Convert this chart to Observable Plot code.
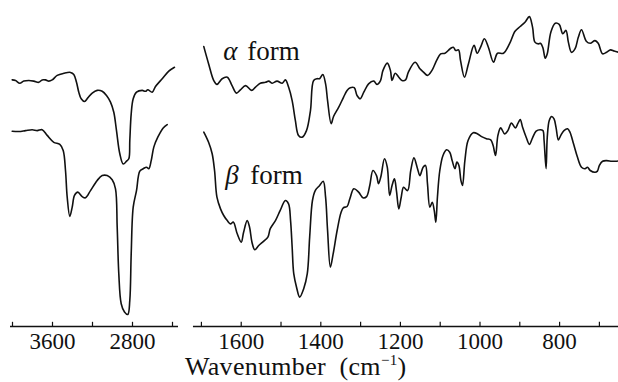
<!DOCTYPE html>
<html>
<head>
<meta charset="utf-8">
<script src="https://cdn.jsdelivr.net/npm/d3@7"></script>
<script src="https://cdn.jsdelivr.net/npm/@observablehq/plot@0.6"></script>
<style>
  html, body { margin: 0; padding: 0; background: #fff; }
  #chart { position: relative; width: 618px; height: 382px; overflow: hidden;
    font-family: "Liberation Serif", "Tinos", "Times New Roman", "Nimbus Roman", "DejaVu Serif", "Noto Serif", "FreeSerif", serif; }
  #left { position: absolute; left: 0; top: 0; }
  #right { position: absolute; left: 185px; top: 0; }
  #xlabel { position: absolute; left: 185px; top: 355px; font-size: 26px; line-height: 24px; color: #111; white-space: nowrap; letter-spacing: 0.3px; }
  #xlabel sup { font-size: 15px; vertical-align: 0; position: relative; top: -10px; }
</style>
</head>
<body>
<div id="chart">
  <div id="left"></div>
  <div id="right"></div>
  <div id="xlabel">Wavenumber&nbsp; (cm<sup>−1</sup>)</div>
</div>
<script>
// Wavenumber (cm^-1), relative transmittance (arbitrary offset units)
const alphaLeft = [
  [4003,82.2],[3970,82.0],[3927,81.1],[3887,81.8],[3837,82.0],[3787,81.8],[3737,81.4],[3703,82.2],
  [3670,82.2],[3637,81.8],[3603,82.2],[3553,83.7],[3487,84.4],[3420,84.7],[3387,84.0],[3360,81.4],
  [3337,78.1],[3313,75.9],[3280,75.0],[3247,76.2],[3203,77.8],[3153,78.7],[3103,78.4],[3060,77.0],
  [3020,74.8],[2987,71.4],[2960,65.3],[2927,57.6],[2893,54.2],[2860,55.1],[2837,55.9],[2827,62.0],
  [2813,70.9],[2793,75.9],[2760,78.1],[2703,78.7],[2670,78.4],[2647,78.9],[2603,78.1],[2570,80.0],
  [2503,82.6],[2437,85.1],[2380,86.4]
];
const betaLeft = [
  [4003,65.1],[3937,65.0],[3870,65.3],[3803,65.6],[3753,65.3],[3703,65.6],[3653,63.7],[3587,61.4],
  [3527,60.7],[3493,58.7],[3470,52.0],[3453,43.1],[3427,36.7],[3403,39.8],[3380,43.7],[3347,44.8],
  [3303,43.3],[3270,42.9],[3220,45.3],[3153,48.7],[3103,50.3],[3053,50.3],[3003,48.9],[2970,45.9],
  [2953,33.1],[2937,17.6],[2913,7.6],[2880,4.8],[2847,4.0],[2827,8.7],[2813,24.2],[2793,39.8],
  [2760,45.3],[2727,51.8],[2693,52.6],[2660,53.1],[2637,52.6],[2613,55.3],[2587,59.8],[2547,63.1],
  [2493,66.2],[2453,67.3]
];
const alphaRight = [
  [1694,93.3],[1682,87.6],[1669,82.0],[1661,80.7],[1648,82.6],[1635,83.1],[1623,80.3],[1612,77.8],
  [1602,78.9],[1589,80.3],[1574,78.7],[1564,79.8],[1552,81.1],[1539,81.4],[1531,81.8],[1522,81.1],
  [1510,81.8],[1497,81.1],[1489,82.2],[1481,79.8],[1472,75.3],[1464,68.7],[1456,63.7],[1447,63.1],
  [1436,65.3],[1426,72.0],[1418,82.0],[1409,82.6],[1403,82.6],[1395,84.0],[1388,80.9],[1383,75.3],
  [1374,67.6],[1368,70.0],[1355,73.1],[1343,76.4],[1334,78.7],[1326,79.6],[1316,79.6],[1309,77.0],
  [1301,75.9],[1292,78.1],[1280,80.9],[1267,81.8],[1259,80.7],[1250,82.0],[1244,85.3],[1233,87.8],
  [1225,85.3],[1221,82.0],[1213,84.4],[1204,83.1],[1196,82.0],[1187,82.2],[1180,84.8],[1163,88.1],
  [1151,85.9],[1142,84.8],[1132,83.7],[1121,85.3],[1109,88.7],[1099,90.9],[1088,91.1],[1075,92.6],
  [1067,93.1],[1061,92.0],[1054,92.2],[1049,88.7],[1039,83.1],[1029,87.6],[1015,93.7],[1007,91.1],
  [998,93.3],[989,95.9],[979,93.1],[966,88.1],[956,91.1],[941,91.1],[926,94.2],[912,98.4],
  [899,100.0],[887,101.4],[876,103.3],[868,99.8],[862,94.8],[853,94.2],[848,94.4],[842,92.9],
  [836,89.4],[831,90.9],[822,98.1],[811,101.1],[801,100.7],[792,97.6],[784,98.7],[778,94.8],
  [770,91.4],[761,92.6],[753,96.4],[745,98.9],[733,95.1],[723,94.4],[711,95.3],[703,94.4],
  [692,90.9],[682,91.4],[672,92.2],[663,91.8],[652,91.4]
];
const betaRight = [
  [1694,64.8],[1682,61.4],[1673,57.6],[1667,52.0],[1661,43.1],[1652,39.2],[1644,37.0],[1635,35.3],
  [1627,34.2],[1620,34.8],[1610,30.9],[1600,28.1],[1594,31.4],[1585,35.3],[1579,33.1],[1573,28.1],
  [1566,25.6],[1556,27.0],[1544,28.4],[1533,29.8],[1527,32.6],[1514,35.3],[1502,38.7],[1489,42.0],
  [1481,40.9],[1476,35.3],[1472,26.4],[1468,17.6],[1461,13.1],[1453,9.8],[1443,12.6],[1434,17.6],
  [1428,29.8],[1421,42.0],[1414,45.3],[1403,47.0],[1394,48.4],[1388,43.1],[1383,32.0],[1376,19.8],
  [1369,24.2],[1359,32.0],[1349,38.1],[1343,39.6],[1334,40.0],[1327,42.6],[1317,45.9],[1305,44.8],
  [1294,42.9],[1285,43.3],[1277,47.0],[1269,52.0],[1260,50.3],[1255,47.6],[1249,50.0],[1240,55.9],
  [1233,53.1],[1227,43.7],[1221,47.0],[1215,49.2],[1210,45.3],[1204,39.2],[1198,43.1],[1192,46.4],
  [1182,45.3],[1174,52.0],[1166,56.2],[1157,52.6],[1151,50.3],[1143,53.1],[1137,53.7],[1132,47.6],
  [1126,39.8],[1120,41.4],[1115,38.7],[1111,34.8],[1107,43.1],[1101,52.0],[1093,57.0],[1084,58.9],
  [1076,58.1],[1070,55.3],[1063,52.6],[1058,54.8],[1053,53.7],[1048,48.7],[1044,47.0],[1038,55.3],
  [1030,62.0],[1017,64.6],[1006,64.2],[996,63.3],[984,62.6],[973,62.2],[967,60.3],[961,57.0],
  [955,63.7],[948,66.2],[938,64.2],[930,65.3],[921,67.8],[911,66.2],[905,67.6],[899,69.0],
  [893,66.4],[884,63.1],[876,60.7],[868,62.9],[859,65.1],[849,65.6],[842,65.3],[839,62.0],
  [834,52.6],[831,63.1],[826,68.7],[820,70.0],[814,69.2],[809,66.4],[803,62.2],[797,63.7],
  [789,65.3],[780,65.9],[774,64.8],[765,60.9],[755,56.4],[745,53.1],[736,52.6],[730,53.1],
  [723,52.0],[711,51.4],[705,51.8],[700,53.7],[692,55.1],[682,55.3],[669,55.1],[659,55.1],[652,55.2]
];

// Axis extents, ticks and tick labels
const leftAxisExtent = [{x1: 4020, x2: 2340}];
const rightAxisExtent = [{x1: 1720, x2: 652}];
const leftTicks = [4000, 3600, 3200, 2800, 2400];
const leftTickLabels = [3600, 2800];
const rightTicks = [1700, 1600, 1500, 1400, 1300, 1200, 1100, 1000, 900, 800, 700];
const rightTickLabels = [1600, 1400, 1200, 1000, 800];

// Form labels
const formLabels = [
  {w: 1645, t: 88.7, greek: "α", w2: 1585},
  {w: 1640, t: 47.6, greek: "β", w2: 1577}
];

const yDomain = [0, 108.67];
const H = 352, MB = 26;
const ink = "#111";
const font = "'Liberation Serif', 'Tinos', 'Times New Roman', 'Nimbus Roman', 'DejaVu Serif', 'Noto Serif', 'FreeSerif', serif";

function axisMarks(extent, ticks, labels) {
  return [
    Plot.ruleY(extent, {y: () => 0, x1: "x1", x2: "x2", stroke: ink, strokeWidth: 1.3}),
    Plot.ruleX(ticks, {x: d => d, y1: () => 0, y2: () => 1.4, stroke: ink, strokeWidth: 1.2}),
    Plot.text(labels, {x: d => d, y: () => 0, text: d => String(d), dy: 22, lineAnchor: "bottom",
      fontSize: 23, fill: ink, fontFamily: font})
  ];
}

const left = Plot.plot({
  width: 185, height: H,
  marginLeft: 0, marginRight: 0, marginTop: 0, marginBottom: MB,
  x: {domain: [4120, 2270], axis: null},
  y: {domain: yDomain, axis: null},
  style: {background: "transparent", overflow: "visible", fontFamily: font},
  marks: [
    Plot.line(alphaLeft, {x: d => d[0], y: d => d[1], stroke: ink, strokeWidth: 1.6, curve: "catmull-rom"}),
    Plot.line(betaLeft, {x: d => d[0], y: d => d[1], stroke: ink, strokeWidth: 1.6, curve: "catmull-rom"}),
    ...axisMarks(leftAxisExtent, leftTicks, leftTickLabels)
  ]
});

const right = Plot.plot({
  width: 433, height: H,
  marginLeft: 0, marginRight: 0, marginTop: 0, marginBottom: MB,
  x: {domain: [1740, 652], axis: null},
  y: {domain: yDomain, axis: null},
  style: {background: "transparent", overflow: "visible", fontFamily: font},
  marks: [
    Plot.line(alphaRight, {x: d => d[0], y: d => d[1], stroke: ink, strokeWidth: 1.6, curve: "catmull-rom"}),
    Plot.line(betaRight, {x: d => d[0], y: d => d[1], stroke: ink, strokeWidth: 1.6, curve: "catmull-rom"}),
    Plot.text(formLabels, {x: "w", y: "t", text: "greek", textAnchor: "start", lineAnchor: "bottom",
      fontSize: 27, fontStyle: "italic", fill: ink, fontFamily: font}),
    Plot.text(formLabels, {x: "w2", y: "t", text: () => "form", textAnchor: "start", lineAnchor: "bottom",
      fontSize: 27, fill: ink, fontFamily: font}),
    ...axisMarks(rightAxisExtent, rightTicks, rightTickLabels)
  ]
});

document.getElementById("left").appendChild(left);
document.getElementById("right").appendChild(right);
</script>
</body>
</html>
